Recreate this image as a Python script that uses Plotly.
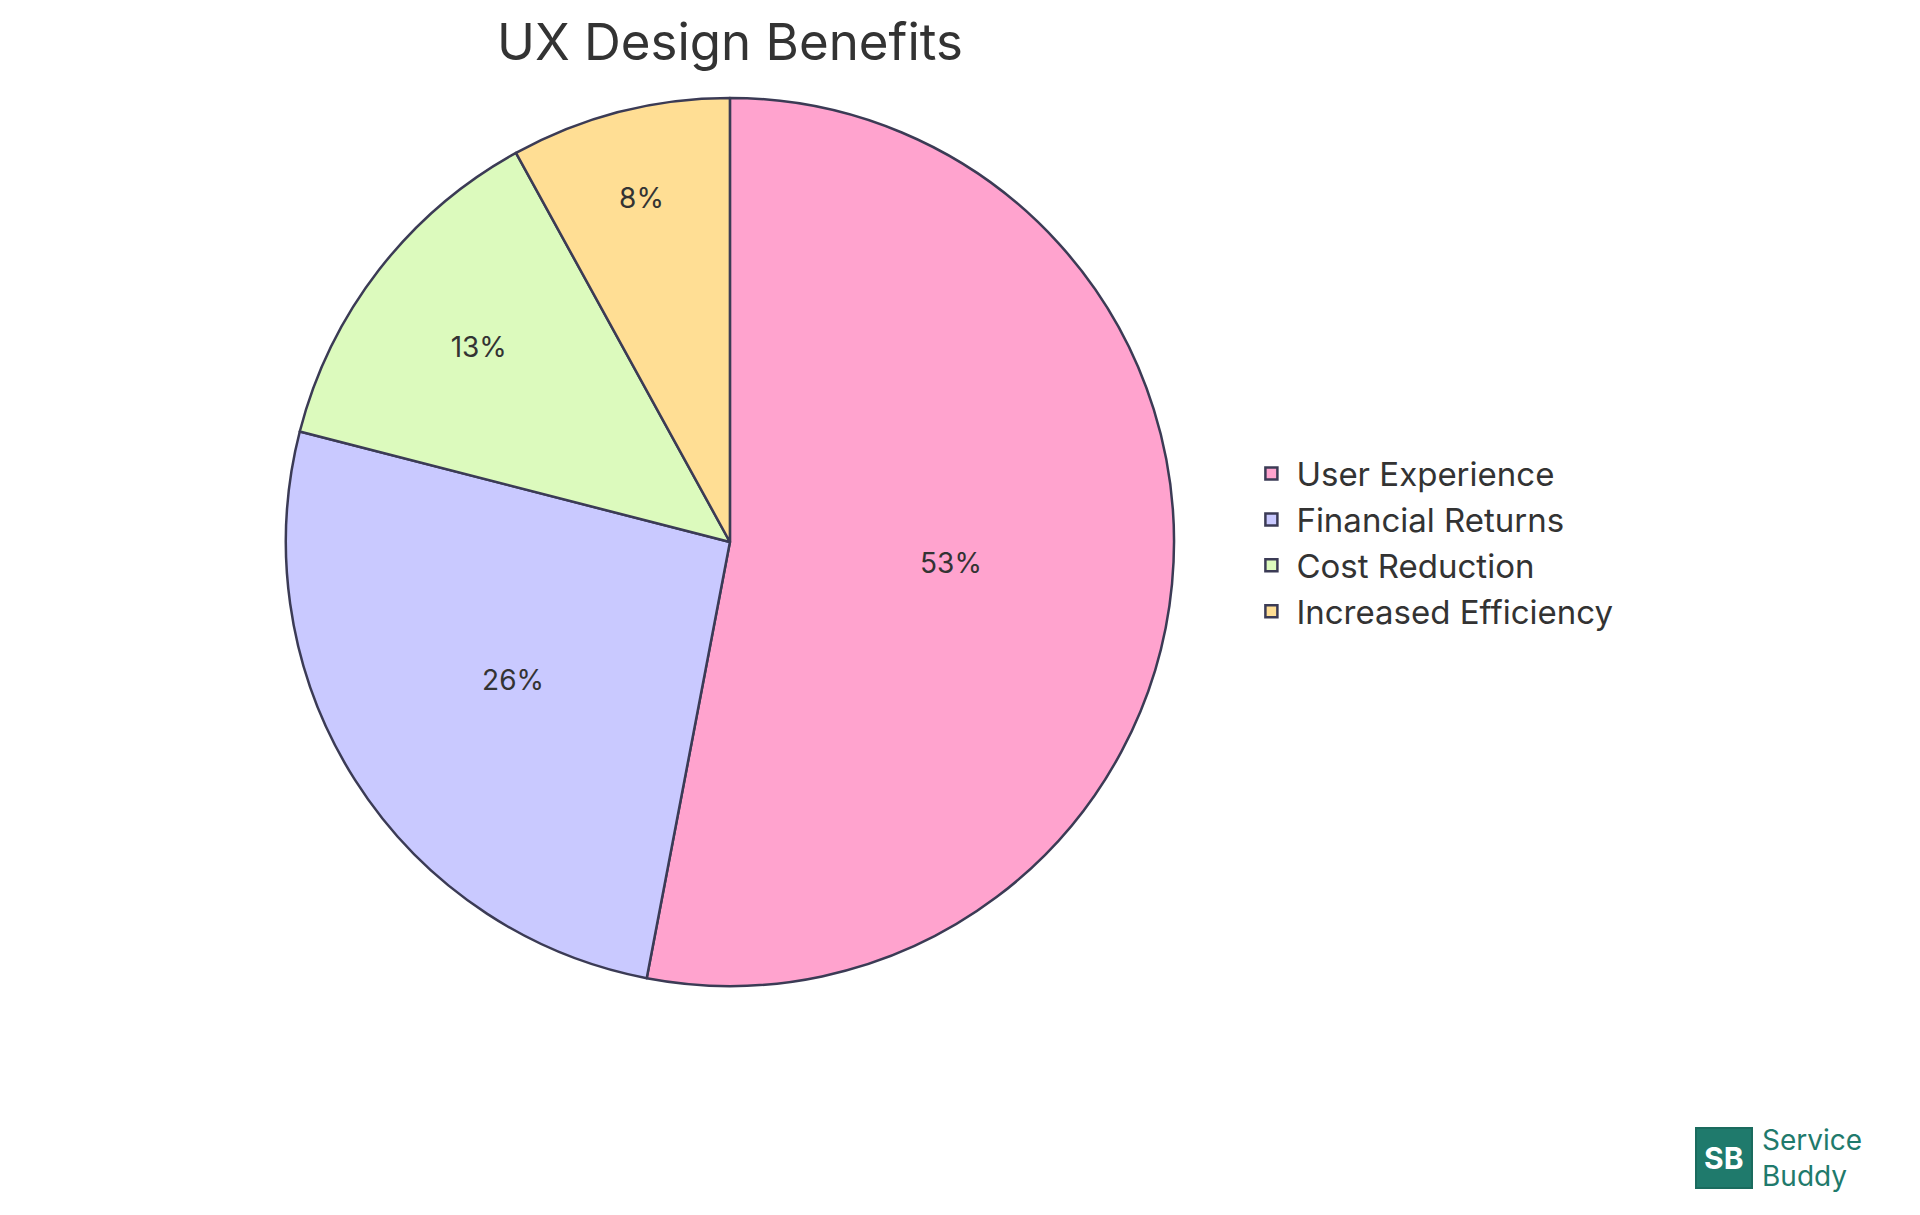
import plotly.graph_objects as go

labels = ["User Experience", "Financial Returns", "Cost Reduction", "Increased Efficiency"]
values = [53, 26, 13, 8]
colors = ["#FFA3CE", "#C9C9FF", "#DCFABD", "#FFDE94"]

fig = go.Figure(go.Pie(
    labels=labels, values=values, sort=False, direction="clockwise", rotation=0,
    marker=dict(colors=colors, line=dict(color="#3B3B55", width=2.5)),
    textinfo="percent", texttemplate="%{percent:.0%}", textposition="inside",
    insidetextorientation="horizontal",
    textfont=dict(family="Inter", size=28, color="#333333"),
    domain=dict(x=[0.144, 0.608], y=[0.195, 0.926]),
))
fig.update_layout(
    width=1920, height=1215, margin=dict(l=0, r=0, t=0, b=0),
    paper_bgcolor="white", plot_bgcolor="white",
    title=dict(text="UX Design Benefits", x=0.376, xanchor="center", y=0.972, yanchor="middle",
               font=dict(family="Inter", size=51, color="#333333")),
    legend=dict(x=0.645, y=0.56, xanchor="left", yanchor="middle",
                font=dict(family="Inter", size=33, color="#333333"), itemwidth=40, tracegroupgap=0),
    shapes=[dict(type="rect", xref="paper", yref="paper", x0=1688/1920, x1=1744/1920,
                 y0=1-1180/1215, y1=1-1120/1215, fillcolor="#1F7A6C", line=dict(color="#1A6B5E", width=2))],
    annotations=[
        dict(text="<b>SB</b>", xref="paper", yref="paper", x=1716/1920, y=1-1150/1215, showarrow=False,
             xanchor="center", yanchor="middle", font=dict(family="Inter", size=30, color="white")),
        dict(text="Service<br>Buddy", xref="paper", yref="paper", x=1752/1920, y=1-1150/1215, xanchor="left",
             yanchor="middle", align="left", showarrow=False, font=dict(family="Inter", size=28, color="#1F7A6C")),
    ],
)
fig.write_html("out.html")
